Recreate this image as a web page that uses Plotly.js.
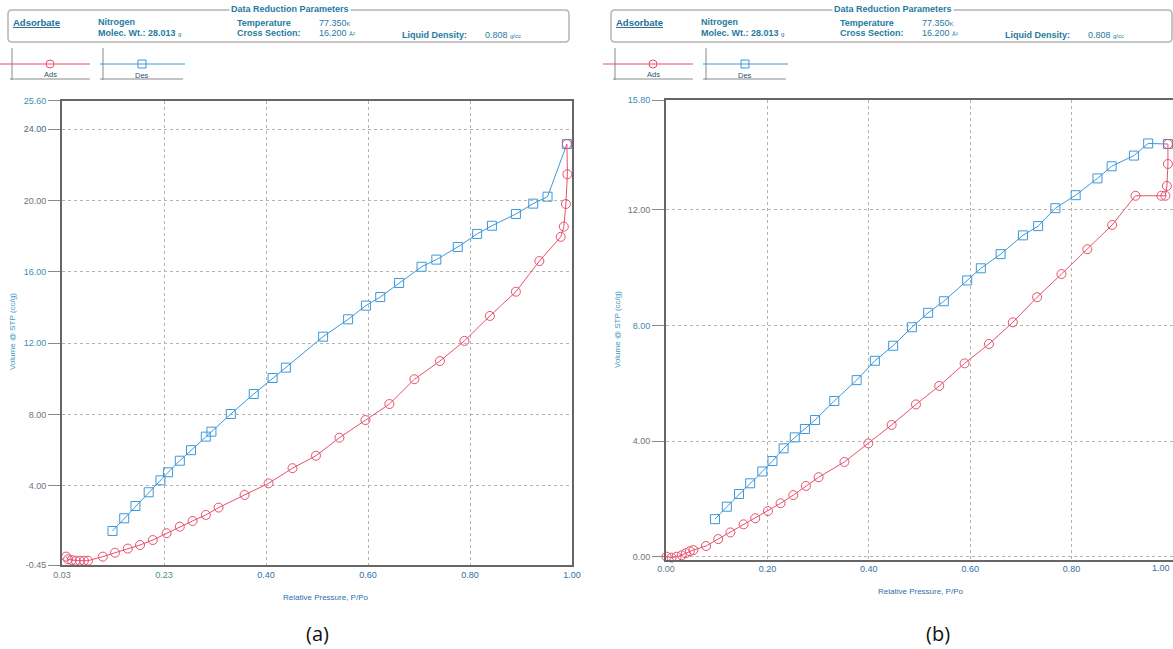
<!DOCTYPE html>
<html>
<head>
<meta charset="utf-8">
<script src="https://cdn.plot.ly/plotly-3.0.1.min.js"></script>
<style>
  html, body { margin: 0; padding: 0; background: #ffffff; }
  #chart { width: 1173px; height: 649px; }
</style>
</head>
<body>
<div id="chart"></div>
<script>
// ---- Isotherm data, panel (a) ----
const adsA_x = [0.008, 0.012, 0.019, 0.027, 0.035, 0.043, 0.051, 0.080, 0.104, 0.129, 0.153, 0.178, 0.205, 0.231, 0.256, 0.282, 0.307, 0.358, 0.405, 0.452, 0.498, 0.544, 0.595, 0.642, 0.691, 0.741, 0.789, 0.839, 0.890, 0.936, 0.978, 0.984, 0.988, 0.991, 0.990];
const adsA_y = [0.02, -0.13, -0.17, -0.21, -0.21, -0.21, -0.21, 0.02, 0.24, 0.47, 0.67, 0.95, 1.33, 1.70, 2.02, 2.36, 2.77, 3.48, 4.13, 4.98, 5.68, 6.69, 7.68, 8.58, 9.97, 10.99, 12.12, 13.52, 14.88, 16.60, 17.96, 18.53, 19.80, 21.47, 23.16];
const desA_x = [0.990, 0.952, 0.924, 0.890, 0.843, 0.814, 0.776, 0.734, 0.705, 0.661, 0.624, 0.596, 0.561, 0.512, 0.439, 0.413, 0.376, 0.331, 0.293, 0.282, 0.253, 0.231, 0.208, 0.193, 0.170, 0.144, 0.122, 0.099];
const desA_y = [23.16, 20.21, 19.82, 19.24, 18.58, 18.12, 17.39, 16.68, 16.28, 15.37, 14.58, 14.10, 13.33, 12.36, 10.62, 10.04, 9.14, 8.02, 7.03, 6.75, 5.99, 5.40, 4.75, 4.30, 3.63, 2.86, 2.17, 1.46];

// ---- Isotherm data, panel (b) ----
const adsB_x = [0.001, 0.011, 0.021, 0.031, 0.039, 0.047, 0.054, 0.079, 0.103, 0.127, 0.153, 0.176, 0.201, 0.226, 0.251, 0.276, 0.301, 0.352, 0.399, 0.445, 0.493, 0.539, 0.589, 0.637, 0.684, 0.732, 0.780, 0.831, 0.880, 0.926, 0.977, 0.985, 0.988, 0.990, 0.990];
const adsB_y = [0.00, -0.03, 0.00, 0.05, 0.12, 0.19, 0.23, 0.37, 0.61, 0.84, 1.12, 1.33, 1.58, 1.85, 2.13, 2.45, 2.75, 3.28, 3.92, 4.56, 5.27, 5.91, 6.69, 7.36, 8.11, 8.98, 9.78, 10.64, 11.48, 12.49, 12.49, 12.49, 12.83, 13.59, 14.28];
const desB_x = [0.990, 0.951, 0.923, 0.879, 0.851, 0.808, 0.768, 0.734, 0.704, 0.660, 0.621, 0.594, 0.548, 0.517, 0.485, 0.448, 0.412, 0.376, 0.332, 0.294, 0.274, 0.254, 0.232, 0.210, 0.190, 0.166, 0.144, 0.120, 0.0966];
const desB_y = [14.28, 14.30, 13.88, 13.51, 13.09, 12.51, 12.06, 11.44, 11.12, 10.47, 9.98, 9.56, 8.84, 8.44, 7.94, 7.30, 6.78, 6.11, 5.39, 4.73, 4.42, 4.13, 3.75, 3.31, 2.95, 2.54, 2.17, 1.73, 1.30];

// ---- Tick values and labels ----
const xTickVals = [0, 0.2, 0.4, 0.6, 0.8, 1.0];
const xTickTextA = ['0.03', '0.23', '0.40', '0.60', '0.80', '1.00'];
const xTickColorA = ['#6c7a80', '#3f9a6a', '#2f6fa8', '#2f6fa8', '#2f6fa8', '#2f6fa8'];
const yTickValsA = [-0.45, 4, 8, 12, 16, 20, 24, 25.6];
const yTickTextA = ['-0.45', '4.00', '8.00', '12.00', '16.00', '20.00', '24.00', '25.60'];
const yTickColorA = ['#6f7478', '#6f7478', '#6f7478', '#3a8fb0', '#3a8fb0', '#6f7478', '#4a6a80', '#3a8fb0'];

const xTickValsB = [0, 0.2, 0.4, 0.6, 0.8];
const xTickTextB = ['0.00', '0.20', '0.40', '0.60', '0.80'];
const xTickColorB = ['#5f7a88', '#2f6fa8', '#2f6fa8', '#2f6fa8', '#2f6fa8'];
const xEndLabelB = '1.00';
const yTickValsB = [0, 4, 8, 12, 15.8];
const yTickTextB = ['0.00', '4.00', '8.00', '12.00', '15.80'];
const yTickColorB = ['#6f7478', '#6f7478', '#3a8fb0', '#6f7478', '#3a8fb0'];

// ---- Page geometry helpers (pixel -> paper) ----
const W = 1173, H = 649;
const px = x => x / W;
const py = y => 1 - y / H;
const FONT = 'Liberation Sans, Arial, Helvetica, sans-serif';
const ADS_COLOR = '#e8506c';
const DES_COLOR = '#3d98d8';
const HEAD_COLOR = '#1f7aa2';

const colored = (texts, colors) => texts.map((t, i) => '<span style="color:' + colors[i] + '">' + t + '</span>');

function roundRectPath(x0, y0, x1, y1, r) {
  const rx = r / W, ry = r / H;
  const X0 = px(x0), X1 = px(x1), Y0 = py(y0), Y1 = py(y1);
  return 'M' + (X0 + rx) + ',' + Y0 +
    ' L' + (X1 - rx) + ',' + Y0 + ' Q' + X1 + ',' + Y0 + ' ' + X1 + ',' + (Y0 - ry) +
    ' L' + X1 + ',' + (Y1 + ry) + ' Q' + X1 + ',' + Y1 + ' ' + (X1 - rx) + ',' + Y1 +
    ' L' + (X0 + rx) + ',' + Y1 + ' Q' + X0 + ',' + Y1 + ' ' + X0 + ',' + (Y1 + ry) +
    ' L' + X0 + ',' + (Y0 - ry) + ' Q' + X0 + ',' + Y0 + ' ' + (X0 + rx) + ',' + Y0 + ' Z';
}

const shapes = [];
const annotations = [];

function txt(x, y, text, opts) {
  annotations.push(Object.assign({
    xref: 'paper', yref: 'paper', x: px(x), y: py(y), text: text,
    showarrow: false, xanchor: 'left', yanchor: 'middle',
    font: { family: FONT, size: 9, color: HEAD_COLOR }
  }, opts || {}));
}
function line(x0, y0, x1, y1, color, width) {
  shapes.push({ type: 'line', xref: 'paper', yref: 'paper',
    x0: px(x0), y0: py(y0), x1: px(x1), y1: py(y1),
    line: { color: color, width: width || 1 } });
}

// Parameter box and legend strip for one report page
function header(dx, boxRight) {
  shapes.push({ type: 'path', xref: 'paper', yref: 'paper',
    path: roundRectPath(8 + dx, 10, boxRight, 42, 4),
    line: { color: '#b4b4b4', width: 1.5 } });
  txt(290 + dx, 9, '<b>Data Reduction Parameters</b>',
    { xanchor: 'center', bgcolor: '#ffffff', borderpad: 1 });
  txt(11 + dx, 23, '<b><u>Adsorbate</u></b>', { font: { family: FONT, size: 9.5, color: '#1d6f96' } });
  txt(96 + dx, 22, '<b>Nitrogen</b>');
  txt(96 + dx, 33, '<b>Molec. Wt.: 28.013 </b><span style="font-size:6px">g</span>');
  txt(235 + dx, 23, '<b>Temperature</b>');
  txt(317 + dx, 23, '77.350<span style="font-size:6px">K</span>');
  txt(235 + dx, 33, '<b>Cross Section:</b>');
  txt(317 + dx, 33, '16.200 <span style="font-size:6px">Å²</span>');
  txt(400 + dx, 34.5, '<b>Liquid Density:</b>');
  txt(483 + dx, 34.5, '0.808 <span style="font-size:6px">g/cc</span>');

  // legend: adsorption
  line(12 + dx, 48, 12 + dx, 80, '#8a8a8a', 1);
  line(10 + dx, 79, 90 + dx, 79, '#8a8a8a', 1);
  line(0 + dx, 64, 90 + dx, 64, ADS_COLOR, 1);
  shapes.push({ type: 'circle', xref: 'paper', yref: 'paper',
    x0: px(46 + dx), x1: px(54 + dx), y0: py(60), y1: py(68),
    line: { color: ADS_COLOR, width: 1 }, fillcolor: 'rgba(0,0,0,0)' });
  txt(50 + dx, 74.5, 'Ads', { xanchor: 'center', font: { family: FONT, size: 7.5, color: '#34506e' } });

  // legend: desorption
  line(103 + dx, 48, 103 + dx, 80, '#8a8a8a', 1);
  line(100 + dx, 79, 183 + dx, 79, '#8a8a8a', 1);
  line(100 + dx, 64, 185 + dx, 64, DES_COLOR, 1);
  shapes.push({ type: 'rect', xref: 'paper', yref: 'paper',
    x0: px(138 + dx), x1: px(146 + dx), y0: py(60), y1: py(68),
    line: { color: DES_COLOR, width: 1 }, fillcolor: 'rgba(0,0,0,0)' });
  txt(142 + dx, 75.5, 'Des', { xanchor: 'center', font: { family: FONT, size: 7.5, color: '#34506e' } });
}

header(0, 569);
header(603, 1172);

// Axis titles and panel labels
txt(12, 332, 'Volume @ STP (cc/g)', { xanchor: 'center', textangle: -90,
  font: { family: FONT, size: 8, color: '#3a98bf' } });
txt(325, 597, 'Relative Pressure, P/Po', { xanchor: 'center',
  font: { family: FONT, size: 8, color: '#2c6fae' } });
txt(617, 330, 'Volume @ STP (cc/g)', { xanchor: 'center', textangle: -90,
  font: { family: FONT, size: 8, color: '#3a98bf' } });
txt(920, 591, 'Relative Pressure, P/Po', { xanchor: 'center',
  font: { family: FONT, size: 8, color: '#2c6fae' } });
// the last x label of panel (b) sits against the page edge
txt(1172, 568, xEndLabelB, { xanchor: 'right', font: { family: FONT, size: 9, color: '#2f6fa8' } });
txt(317, 633, '(a)', { xanchor: 'center', font: { family: 'Open Sans, Noto Sans, sans-serif', size: 20, color: '#111111' } });
txt(938, 633, '(b)', { xanchor: 'center', font: { family: 'Open Sans, Noto Sans, sans-serif', size: 20, color: '#111111' } });

function series(x, y, color, symbol, size, xa, ya) {
  return {
    x: x, y: y, xaxis: xa, yaxis: ya, type: 'scatter', mode: 'lines+markers',
    line: { color: color, width: 1 },
    marker: { symbol: symbol, size: size, color: color, line: { color: color, width: 1 } },
    hoverinfo: 'skip', showlegend: false, cliponaxis: false
  };
}

const traces = [
  series(desA_x, desA_y, DES_COLOR, 'square-open', 9, 'x', 'y'),
  series(adsA_x, adsA_y, ADS_COLOR, 'circle-open', 9, 'x', 'y'),
  series(desB_x, desB_y, DES_COLOR, 'square-open', 9, 'x2', 'y2'),
  series(adsB_x, adsB_y, ADS_COLOR, 'circle-open', 9, 'x2', 'y2')
];

const axisCommon = {
  showgrid: true, gridcolor: '#b3b3b3', griddash: '3px,3px', gridwidth: 1,
  showline: true, mirror: true, linecolor: '#666666', linewidth: 2,
  zeroline: false, tickmode: 'array', fixedrange: true,
  tickfont: { family: FONT, size: 9 }
};

const layout = {
  width: W, height: H, autosize: false,
  margin: { l: 0, r: 0, t: 0, b: 0, pad: 0 },
  paper_bgcolor: '#ffffff', plot_bgcolor: '#ffffff',
  showlegend: false, hovermode: false,
  xaxis: Object.assign({}, axisCommon, {
    domain: [px(62), px(572)], range: [0, 1], anchor: 'y',
    tickvals: xTickVals, ticktext: colored(xTickTextA, xTickColorA), ticks: ''
  }),
  yaxis: Object.assign({}, axisCommon, {
    domain: [py(565), py(100.6)], range: [-0.45, 25.6], anchor: 'x',
    tickvals: yTickValsA, ticktext: colored(yTickTextA, yTickColorA),
    ticks: 'outside', ticklen: 12, tickcolor: '#8a8a8a', tickwidth: 1
  }),
  xaxis2: Object.assign({}, axisCommon, {
    domain: [px(666), 1], range: [0, 1], anchor: 'y2',
    tickvals: xTickValsB, ticktext: colored(xTickTextB, xTickColorB), ticks: ''
  }),
  yaxis2: Object.assign({}, axisCommon, {
    domain: [py(559.6), py(100.1)], range: [-0.1, 15.8], anchor: 'x2',
    tickvals: yTickValsB, ticktext: colored(yTickTextB, yTickColorB),
    ticks: 'outside', ticklen: 12, tickcolor: '#8a8a8a', tickwidth: 1
  }),
  shapes: shapes,
  annotations: annotations
};

Plotly.newPlot('chart', traces, layout, { staticPlot: true, displayModeBar: false });
</script>
</body>
</html>
